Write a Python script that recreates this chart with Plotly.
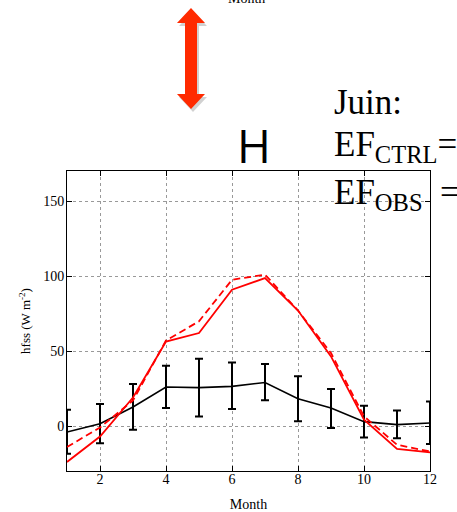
import plotly.graph_objects as go

months = [1, 2, 3, 4, 5, 6, 7, 8, 9, 10, 11, 12]
obs_mean = [-4, 1.5, 12.7, 26, 25.6, 26.4, 29, 18.2, 12, 2.9, 0.9, 2]
obs_upper = [10.9, 14.7, 28, 40.2, 44.9, 42.4, 41.3, 33.1, 24.6, 13.5, 10.4, 16.4]
obs_lower = [-18.5, -11.5, -2.5, 12, 6.4, 11.3, 17.1, 3.1, -1.4, -7.6, -8.2, -12]
model_solid = [-24, -7, 19, 56.3, 62, 90.9, 98.6, 77, 46.4, 4.2, -15.3, -17.6]
model_dashed = [-14, -1, 17, 57, 69.8, 97.5, 100.9, 77, 48.6, 6.4, -12.5, -17]
x_ticks = [2, 4, 6, 8, 10, 12]
y_ticks = [0, 50, 100, 150]

W, H = 457, 512
L, R, T, B = 67, 430, 171, 471

def px(x):
    return (x - L) / (R - L)

def py(y):
    return (B - y) / (B - T)

err_plus = [u - m for u, m in zip(obs_upper, obs_mean)]
err_minus = [m - l for m, l in zip(obs_mean, obs_lower)]

fig = go.Figure()
fig.add_trace(go.Scatter(
    x=months, y=obs_mean, mode="lines",
    line=dict(color="black", width=1.6),
    error_y=dict(type="data", array=err_plus, arrayminus=err_minus,
                 color="black", thickness=2, width=4),
    showlegend=False))
fig.add_trace(go.Scatter(
    x=months, y=model_dashed, mode="lines",
    line=dict(color="#ff0000", width=1.8, dash="7px,4px"), showlegend=False))
fig.add_trace(go.Scatter(
    x=months, y=model_solid, mode="lines",
    line=dict(color="#ff0000", width=1.8), showlegend=False))

serif = "Liberation Serif"
axis_common = dict(
    showline=True, linecolor="black", linewidth=1, mirror="ticks",
    ticks="inside", ticklen=5, tickcolor="black", automargin=False,
    showgrid=True, gridcolor="#999", griddash="dot", gridwidth=1,
    zeroline=False, tickfont=dict(family=serif, size=14, color="black"),
)
fig.update_xaxes(range=[1, 12], tickvals=x_ticks, ticklabelstandoff=-5,
                 title=dict(text="Month", font=dict(family=serif, size=14, color="black"), standoff=14),
                 **axis_common)
fig.update_yaxes(range=[-30, 170], tickvals=y_ticks, ticklabelstandoff=-1,
                 title=dict(text="hfss (W m<sup>-2</sup>)", font=dict(family=serif, size=13, color="black"), standoff=9),
                 **axis_common)

# decorative double arrow (shadow + arrow)
def arrow_path(dx, dy):
    pts = [(191, 8), (205, 23), (197, 23), (197, 94), (205, 94), (191, 109),
           (177, 94), (185, 94), (185, 23), (177, 23)]
    s = "M " + " L ".join(f"{px(a+dx):.5f},{py(b+dy):.5f}" for a, b in pts) + " Z"
    return s

shapes = [
    dict(type="path", xref="paper", yref="paper", path=arrow_path(2, 3),
         fillcolor="rgba(0,0,0,0.18)", line=dict(width=0), layer="above"),
    dict(type="path", xref="paper", yref="paper", path=arrow_path(0, 0),
         fillcolor="#ff2a00", line=dict(width=0), layer="above"),
]

annotations = [
    dict(text="Month", x=px(246), y=py(-2), xref="paper", yref="paper",
         showarrow=False, font=dict(family=serif, size=14, color="black"),
         xanchor="center", yanchor="middle"),
    dict(text="H", x=px(254), y=py(145), xref="paper", yref="paper",
         showarrow=False, font=dict(family="Open Sans", size=46, color="black"),
         xanchor="center", yanchor="middle"),
    dict(text="Juin:", x=px(332), y=py(102), xref="paper", yref="paper",
         showarrow=False, font=dict(family=serif, size=35, color="black"),
         xanchor="left", yanchor="middle"),
    dict(text="EF<sub>CTRL</sub>=", x=px(332), y=py(147), xref="paper", yref="paper",
         showarrow=False, font=dict(family=serif, size=35, color="black"),
         xanchor="left", yanchor="middle"),
    dict(text="EF<sub>OBS</sub>&nbsp;&nbsp;=", x=px(332), y=py(194), xref="paper", yref="paper",
         showarrow=False, font=dict(family=serif, size=35, color="black"),
         xanchor="left", yanchor="middle"),
]

fig.update_layout(
    width=W, height=H,
    margin=dict(l=L, r=W - R, t=T, b=H - B),
    paper_bgcolor="white", plot_bgcolor="white",
    shapes=shapes, annotations=annotations,
)

fig.write_html("out.html")
